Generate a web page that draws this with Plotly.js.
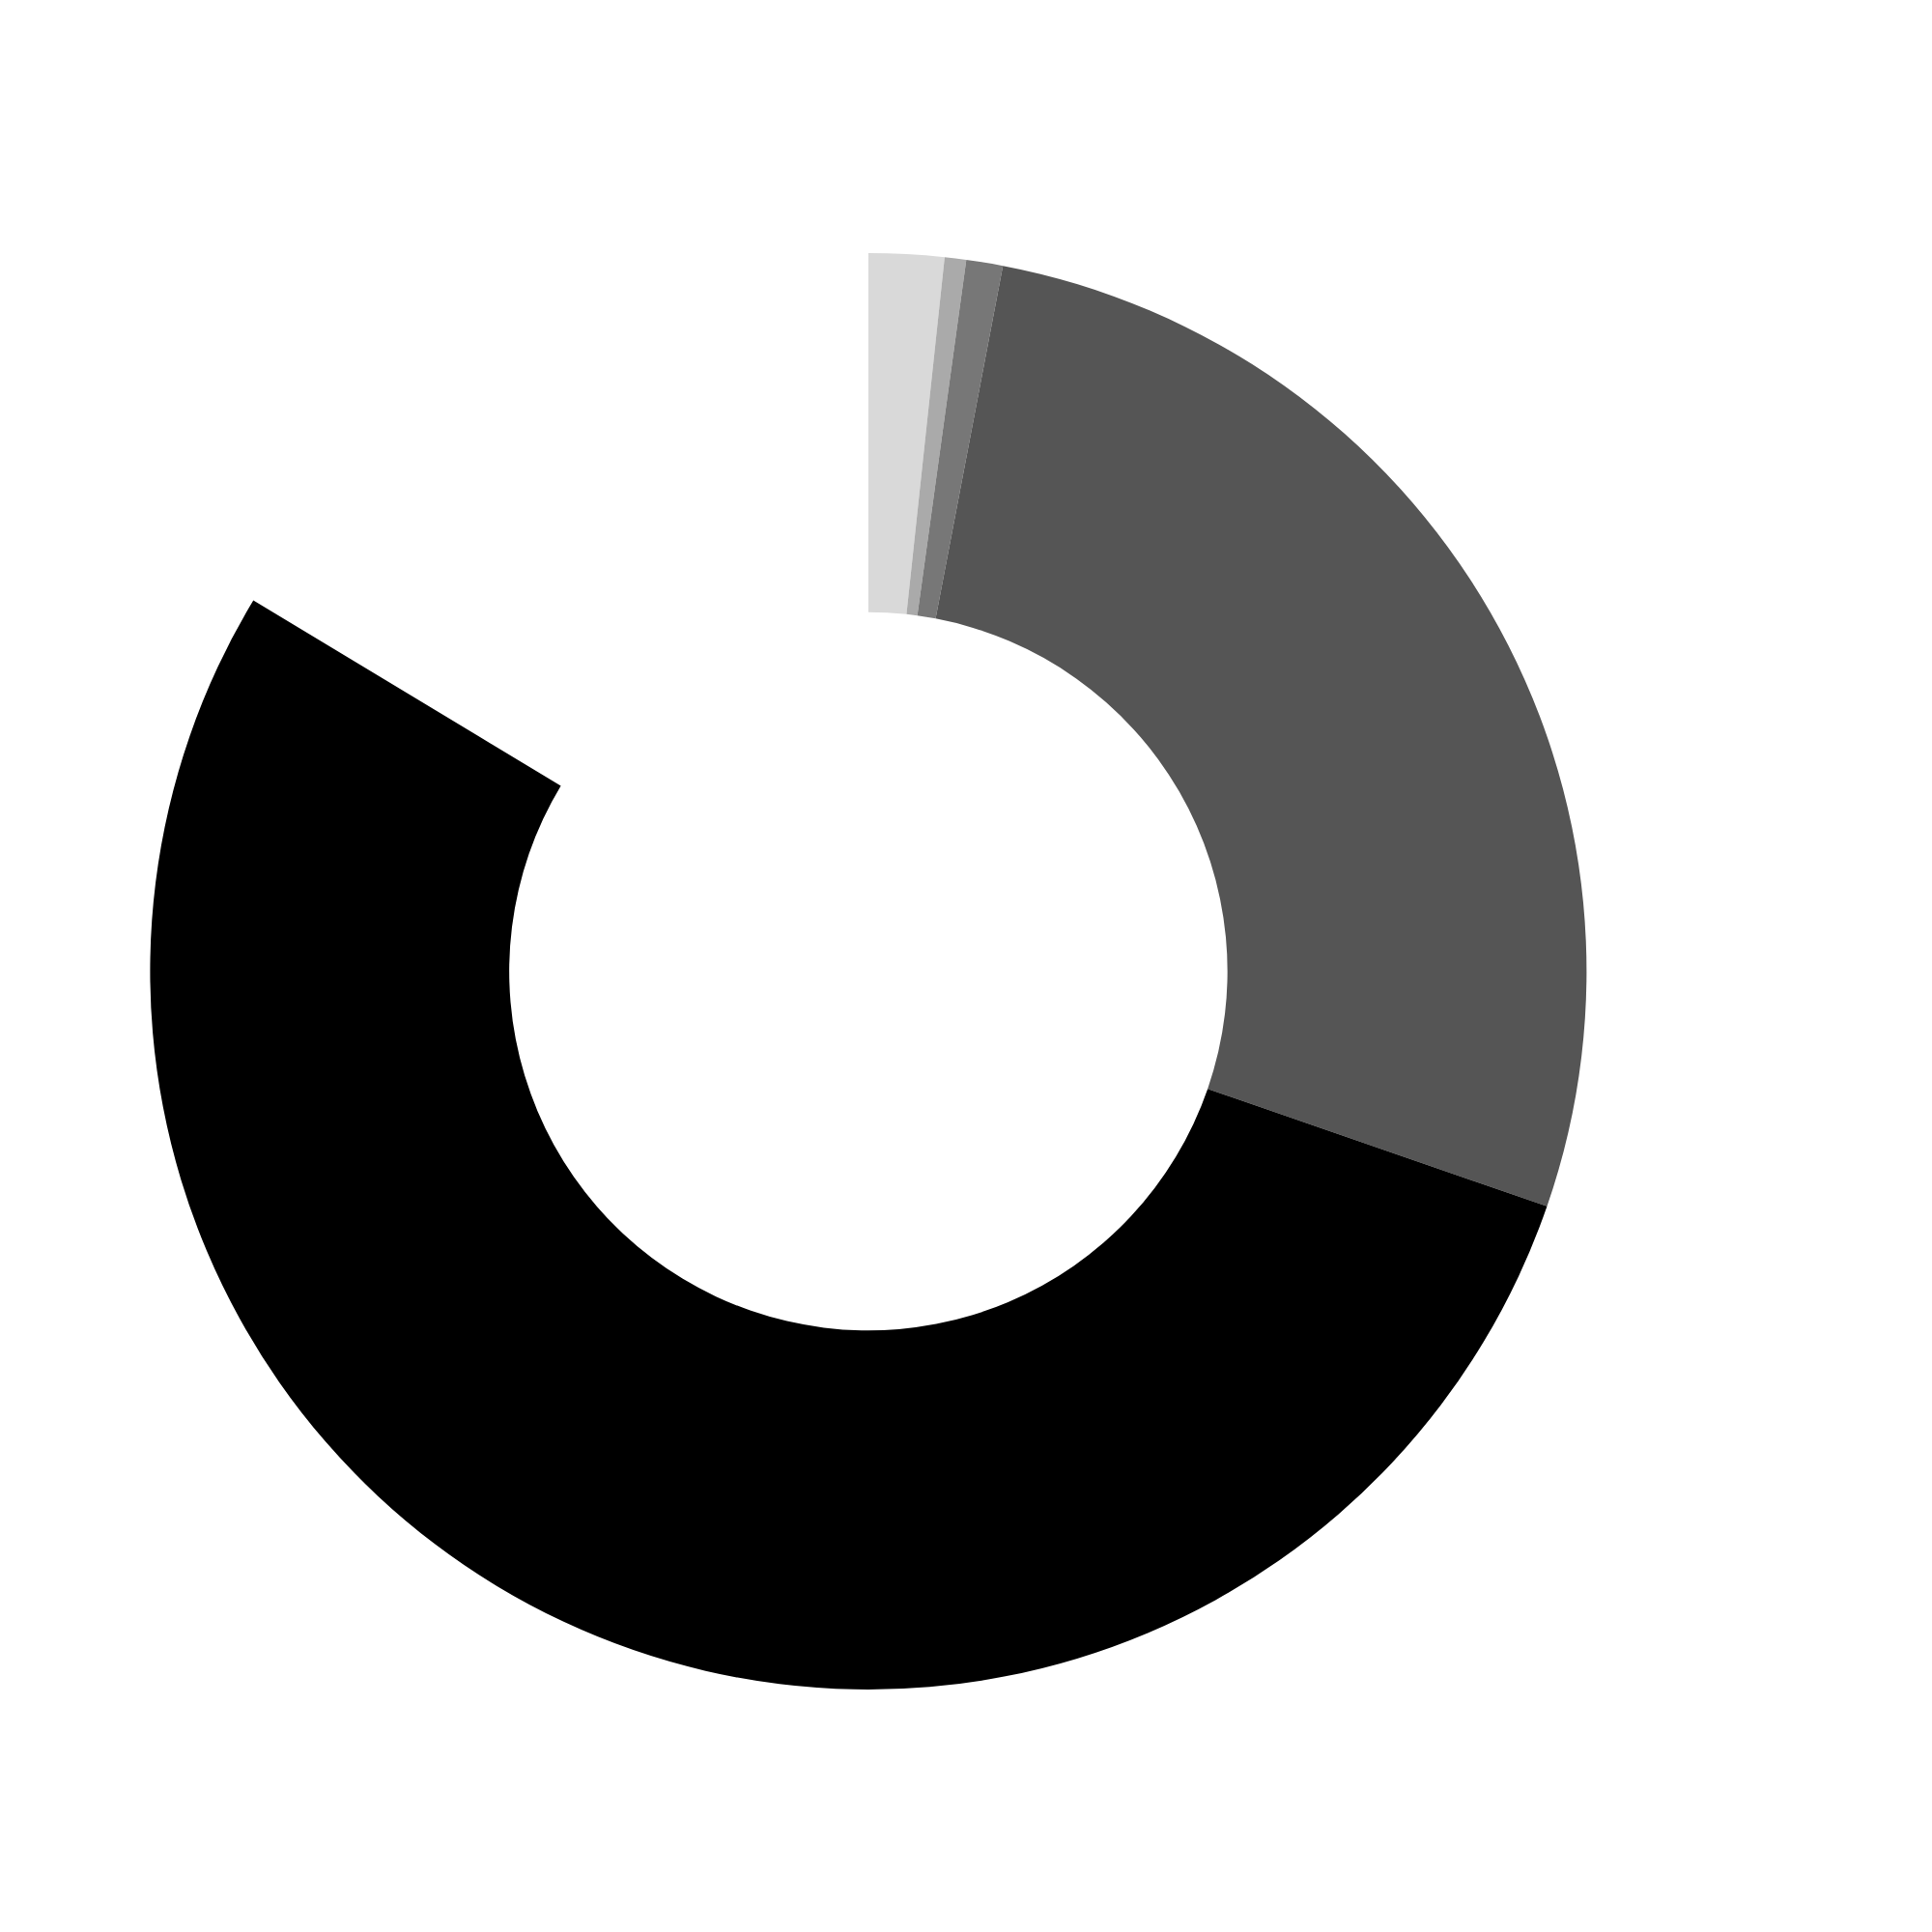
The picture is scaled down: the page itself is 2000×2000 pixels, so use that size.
<!DOCTYPE html>
<html>
<head>
<meta charset="utf-8">
<script src="https://cdn.plot.ly/plotly-3.0.1.min.js"></script>
<style>html,body{margin:0;padding:0;background:#fff;}</style>
</head>
<body>
<div id="chart" style="width:2000px;height:2000px;"></div>
<script>
const categories = ["A", "B", "C", "D", "E", "Gap"];
const values = [6.1, 1.74, 2.96, 98.3, 192.0, 58.9];
const colors = ["#d9d9d9", "#aaaaaa", "#777777", "#555555", "#000000", "rgba(255,255,255,0)"];

Plotly.newPlot("chart", [{
  type: "pie",
  labels: categories,
  values: values,
  sort: false,
  direction: "clockwise",
  rotation: 0,
  hole: 0.5,
  textinfo: "none",
  hoverinfo: "label+value",
  marker: {colors: colors, line: {width: 0}},
  domain: {x: [0.0777, 0.8212], y: [0.1255, 0.869]}
}], {
  width: 2000,
  height: 2000,
  margin: {l: 0, r: 0, t: 0, b: 0},
  paper_bgcolor: "#ffffff",
  showlegend: false
}, {displayModeBar: false, staticPlot: true});
</script>
</body>
</html>
